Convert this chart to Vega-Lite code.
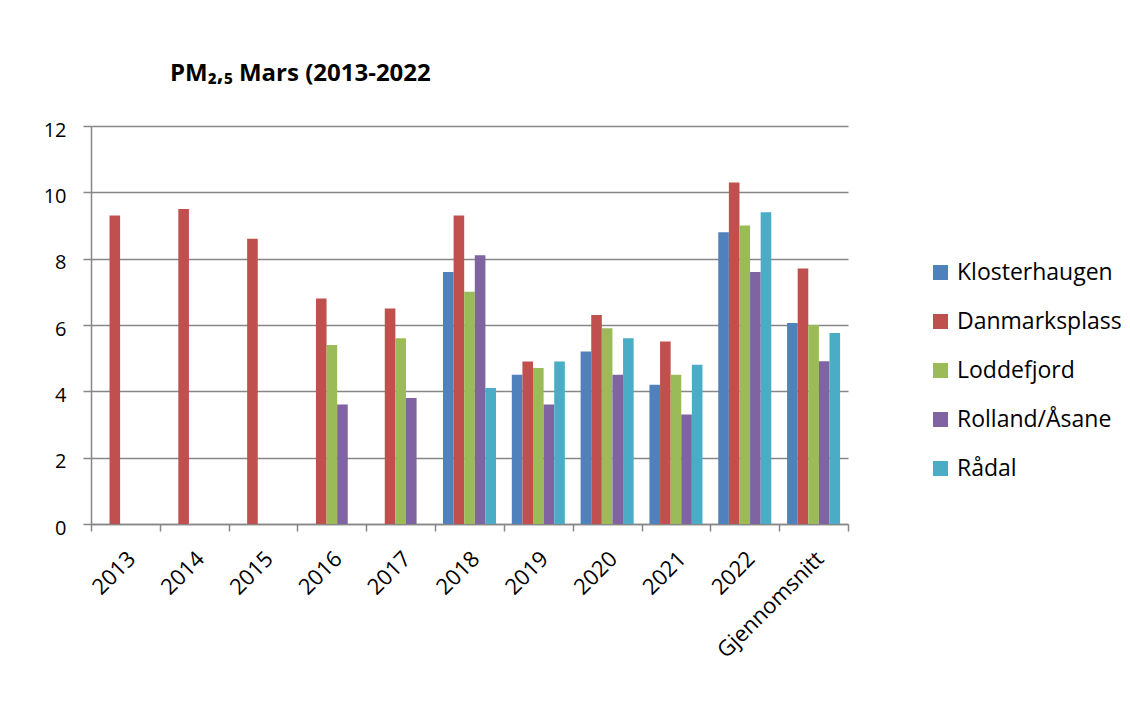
{
  "$schema": "https://vega.github.io/schema/vega-lite/v6.json",
  "width": 757,
  "height": 398,
  "autosize": {"type": "none"},
  "padding": {"left": 91, "top": 126, "right": 282, "bottom": 193},
  "background": "white",
  "config": {"view": {"stroke": null}, "font": "Open Sans"},
  "title": {
    "text": "PM₂,₅ Mars (2013-2022",
    "fontSize": 24,
    "fontWeight": "bold",
    "color": "black",
    "anchor": "start",
    "frame": "group",
    "dx": 79,
    "offset": 15,
    "baseline": "alphabetic"
  },
  "data": {
    "values": [
      {"year": "2013", "station": "Danmarksplass", "value": 9.3},
      {"year": "2014", "station": "Danmarksplass", "value": 9.5},
      {"year": "2015", "station": "Danmarksplass", "value": 8.6},
      {"year": "2016", "station": "Danmarksplass", "value": 6.8},
      {"year": "2016", "station": "Loddefjord", "value": 5.4},
      {"year": "2016", "station": "Rolland/Åsane", "value": 3.6},
      {"year": "2017", "station": "Danmarksplass", "value": 6.5},
      {"year": "2017", "station": "Loddefjord", "value": 5.6},
      {"year": "2017", "station": "Rolland/Åsane", "value": 3.8},
      {"year": "2018", "station": "Klosterhaugen", "value": 7.6},
      {"year": "2018", "station": "Danmarksplass", "value": 9.3},
      {"year": "2018", "station": "Loddefjord", "value": 7.0},
      {"year": "2018", "station": "Rolland/Åsane", "value": 8.1},
      {"year": "2018", "station": "Rådal", "value": 4.1},
      {"year": "2019", "station": "Klosterhaugen", "value": 4.5},
      {"year": "2019", "station": "Danmarksplass", "value": 4.9},
      {"year": "2019", "station": "Loddefjord", "value": 4.7},
      {"year": "2019", "station": "Rolland/Åsane", "value": 3.6},
      {"year": "2019", "station": "Rådal", "value": 4.9},
      {"year": "2020", "station": "Klosterhaugen", "value": 5.2},
      {"year": "2020", "station": "Danmarksplass", "value": 6.3},
      {"year": "2020", "station": "Loddefjord", "value": 5.9},
      {"year": "2020", "station": "Rolland/Åsane", "value": 4.5},
      {"year": "2020", "station": "Rådal", "value": 5.6},
      {"year": "2021", "station": "Klosterhaugen", "value": 4.2},
      {"year": "2021", "station": "Danmarksplass", "value": 5.5},
      {"year": "2021", "station": "Loddefjord", "value": 4.5},
      {"year": "2021", "station": "Rolland/Åsane", "value": 3.3},
      {"year": "2021", "station": "Rådal", "value": 4.8},
      {"year": "2022", "station": "Klosterhaugen", "value": 8.8},
      {"year": "2022", "station": "Danmarksplass", "value": 10.3},
      {"year": "2022", "station": "Loddefjord", "value": 9.0},
      {"year": "2022", "station": "Rolland/Åsane", "value": 7.6},
      {"year": "2022", "station": "Rådal", "value": 9.4},
      {"year": "Gjennomsnitt", "station": "Klosterhaugen", "value": 6.06},
      {"year": "Gjennomsnitt", "station": "Danmarksplass", "value": 7.7},
      {"year": "Gjennomsnitt", "station": "Loddefjord", "value": 6.0},
      {"year": "Gjennomsnitt", "station": "Rolland/Åsane", "value": 4.91},
      {"year": "Gjennomsnitt", "station": "Rådal", "value": 5.76}
    ]
  },
  "mark": {"type": "bar"},
  "encoding": {
    "x": {
      "field": "year",
      "type": "nominal",
      "scale": {
        "domain": ["2013", "2014", "2015", "2016", "2017", "2018", "2019", "2020", "2021", "2022", "Gjennomsnitt"],
        "paddingInner": 0,
        "paddingOuter": 0
      },
      "axis": {
        "title": null,
        "tickBand": "extent",
        "labelOffset": 6,
        "labelAngle": -45,
        "labelAlign": "right",
        "labelBaseline": "middle",
        "labelFontSize": 22,
        "labelColor": "black",
        "labelPadding": 24,
        "tickSize": 7,
        "tickColor": "#878787",
        "tickWidth": 1.5,
        "domainColor": "#878787",
        "domainWidth": 1.5,
        "grid": false
      }
    },
    "xOffset": {
      "field": "station",
      "scale": {
        "domain": ["Klosterhaugen", "Danmarksplass", "Loddefjord", "Rolland/Åsane", "Rådal"],
        "paddingInner": 0,
        "paddingOuter": 0.745
      }
    },
    "y": {
      "field": "value",
      "type": "quantitative",
      "scale": {"domain": [0, 12]},
      "axis": {
        "title": null,
        "values": [0, 2, 4, 6, 8, 10, 12],
        "labelFontSize": 20,
        "labelColor": "black",
        "labelPadding": 17,
        "labelOffset": 4,
        "tickSize": 8,
        "tickColor": "#878787",
        "tickWidth": 1.5,
        "domainColor": "#878787",
        "domainWidth": 1.5,
        "grid": true,
        "gridColor": "#878787",
        "gridWidth": 1.5
      }
    },
    "color": {
      "field": "station",
      "type": "nominal",
      "scale": {
        "domain": ["Klosterhaugen", "Danmarksplass", "Loddefjord", "Rolland/Åsane", "Rådal"],
        "range": ["#4F81BD", "#C0504D", "#9BBB59", "#8064A2", "#4BACC6"]
      },
      "legend": {
        "title": null,
        "orient": "none",
        "legendX": 838,
        "legendY": 135,
        "symbolType": "square",
        "symbolSize": 225,
        "symbolStrokeWidth": 0,
        "labelFontSize": 23,
        "labelColor": "black",
        "labelOffset": 5,
        "labelLimit": 0,
        "rowPadding": 25
      }
    }
  }
}
